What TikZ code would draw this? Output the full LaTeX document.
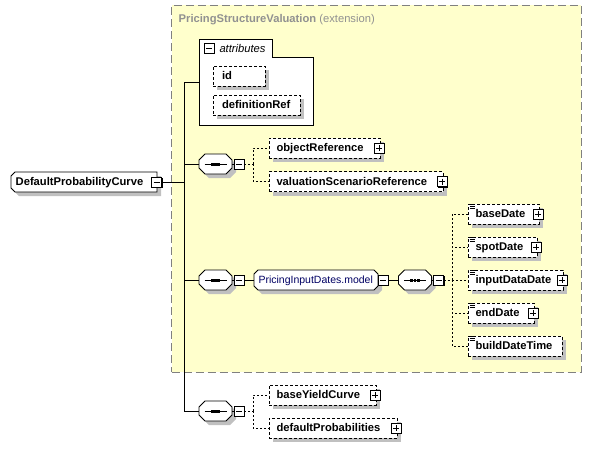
\documentclass[tikz,border=0pt]{standalone}
\usepackage{fontspec}
\setmainfont{Liberation Sans}
\usetikzlibrary{shadows}
\hyphenpenalty=10000
\exhyphenpenalty=10000
\definecolor{extfill}{RGB}{255,255,204}
\definecolor{extdraw}{RGB}{128,128,128}
\definecolor{shadowc}{RGB}{192,192,192}
\definecolor{titlec}{RGB}{145,145,145}
\definecolor{grpc}{RGB}{0,0,100}
\makeatletter
\newdimen\oc@l \newdimen\oc@r \newdimen\oc@b \newdimen\oc@t \newdimen\oc@cl \newdimen\oc@cr
\pgfkeys{/pgf/octo left/.initial=5pt, /pgf/octo right/.initial=5pt}
\pgfdeclareshape{octo}{%
  \inheritsavedanchors[from=rectangle]%
  \inheritanchorborder[from=rectangle]%
  \inheritanchor[from=rectangle]{center}%
  \inheritanchor[from=rectangle]{north}%
  \inheritanchor[from=rectangle]{south}%
  \inheritanchor[from=rectangle]{east}%
  \inheritanchor[from=rectangle]{west}%
  \inheritanchor[from=rectangle]{north east}%
  \inheritanchor[from=rectangle]{north west}%
  \inheritanchor[from=rectangle]{south east}%
  \inheritanchor[from=rectangle]{south west}%
  \inheritanchor[from=rectangle]{base}%
  \inheritanchor[from=rectangle]{mid}%
  \backgroundpath{%
    \southwest \oc@l=\pgf@x \oc@b=\pgf@y
    \northeast \oc@r=\pgf@x \oc@t=\pgf@y
    \pgfmathsetlength\oc@cl{\pgfkeysvalueof{/pgf/octo left}}%
    \pgfmathsetlength\oc@cr{\pgfkeysvalueof{/pgf/octo right}}%
    \pgfpathmoveto{\pgfqpoint{\oc@l}{\dimexpr\oc@b+\oc@cl\relax}}%
    \pgfpathlineto{\pgfqpoint{\oc@l}{\dimexpr\oc@t-\oc@cl\relax}}%
    \pgfpathlineto{\pgfqpoint{\dimexpr\oc@l+\oc@cl\relax}{\oc@t}}%
    \pgfpathlineto{\pgfqpoint{\dimexpr\oc@r-\oc@cr\relax}{\oc@t}}%
    \pgfpathlineto{\pgfqpoint{\oc@r}{\dimexpr\oc@t-\oc@cr\relax}}%
    \pgfpathlineto{\pgfqpoint{\oc@r}{\dimexpr\oc@b+\oc@cr\relax}}%
    \pgfpathlineto{\pgfqpoint{\dimexpr\oc@r-\oc@cr\relax}{\oc@b}}%
    \pgfpathlineto{\pgfqpoint{\dimexpr\oc@l+\oc@cl\relax}{\oc@b}}%
    \pgfpathclose
  }%
}
\makeatother
\tikzset{
  lblfont/.style={font=\fontsize{11.2}{13}\selectfont\bfseries},
  boxshadow/.style={drop shadow={shadow xshift=4pt,shadow yshift=-4pt,fill=shadowc,opacity=1}},
  elem/.style={rectangle, draw=black, line width=0.8pt, dash pattern=on 3pt off 2pt,
    fill=white, boxshadow, minimum height=20pt, inner xsep=7.5pt, inner ysep=0pt, outer sep=0pt,
    text height=9pt, text depth=2pt, align=left, lblfont, text width=#1},
  attrel/.style={elem=#1, inner xsep=9pt},
  simpleel/.style={elem=#1, path picture={
      \foreach \k in {0.8,2.8,4.8}
        \draw[solid,line width=0.8pt] ([xshift=1.5pt,yshift={-\k*1pt}]path picture bounding box.north west) -- ([xshift=6.5pt,yshift={-\k*1pt}]path picture bounding box.north west);}},
  pmbase/.style={rectangle, draw=black, solid, line width=0.8pt, fill=white,
    minimum size=10pt, inner sep=0pt, outer sep=0pt,
    drop shadow={shadow xshift=1pt,shadow yshift=-1pt,fill=black,opacity=1}},
  minusicon/.style={pmbase, path picture={
      \draw[line width=0.8pt] ([xshift=2pt]path picture bounding box.west) -- ([xshift=-2pt]path picture bounding box.east);}},
  plusicon/.style={pmbase, path picture={
      \draw[line width=0.8pt] ([xshift=2pt]path picture bounding box.west) -- ([xshift=-2pt]path picture bounding box.east);
      \draw[line width=0.8pt] ([yshift=-2pt]path picture bounding box.north) -- ([yshift=2pt]path picture bounding box.south);}},
  octobox/.style={octo, draw=black, solid, line width=0.8pt, fill=white, boxshadow, outer sep=0pt},
  compositor/.style={octobox, octo left=6pt, octo right=6pt,
    minimum width=33pt, minimum height=20pt, inner sep=0pt},
  conn/.style={draw=black, line width=0.8pt},
  optconn/.style={conn, dash pattern=on 2pt off 2pt},
}
\newcommand\seqglyph[1]{%
  \draw[line width=0.8pt] ([xshift=-11pt]#1.center) -- ([xshift=11pt]#1.center);
  \foreach \d in {-4.6,-1.4,1.8}
    \fill ([xshift=\d pt,yshift=1.5pt]#1.center) rectangle ++(2.8,3);}
\begin{document}
\begin{tikzpicture}[x=1pt,y=-1pt]
\useasboundingbox (0,0) rectangle (591,448);

% extension background
\node[draw=extdraw, fill=extfill, line width=1pt, dash pattern=on 8pt off 4pt,
  minimum width=409.5pt, minimum height=367pt, inner sep=0pt] (ext) at (376.25,188.5) {};
\node[anchor=base west, inner sep=0pt, text=titlec, font=\fontsize{11.2}{13}\selectfont] (title) at (178.5,22.5) {\textbf{PricingStructureValuation} (extension)};

% attributes box
\node[minimum width=113.5pt, minimum height=86pt, inner sep=0pt, outer sep=0pt] (attrs) at (256.25,82) {};
\draw[line width=0.8pt, fill=white] (attrs.north west) -- ([xshift=72.5pt]attrs.north west)
  -- ([xshift=72.5pt,yshift=-18pt]attrs.north west) -- ([yshift=-18pt]attrs.north east)
  -- (attrs.south east) -- (attrs.south west) -- cycle;
\node[minusicon] (attrm) at (209,48.3) {};
\node[anchor=base west, inner sep=0pt, font=\fontsize{11.2}{13}\selectfont\itshape] (attrt) at (219.3,52) {attributes};
\node[attrel=34pt] (id) at (239,76) {id};
\node[attrel=69pt] (defref) at (256.5,105) {definitionRef};

% root element
\node[octobox, octo left=4pt, octo right=0pt,
  minimum width=146pt, minimum height=20pt, inner xsep=4.7pt, inner ysep=0pt,
  text width=136.6pt, text height=9pt, text depth=2pt, align=left, lblfont] (dpc) at (84,182) {DefaultProbabilityCurve};
\node[minusicon] (dpcm) at ([xshift=-0.5pt]dpc.east) {};

% compositor 1
\node[compositor] (c1) at (215.5,164) {};
\seqglyph{c1}
\node[minusicon, anchor=west] (m1) at ([xshift=2pt]c1.east) {};
\node[elem=96pt] (objref) at (324.5,148) {objectReference};
\node[plusicon] (objrefp) at ([xshift=-1pt]objref.east) {};
\node[elem=159pt] (vsr) at (356,181.5) {valuationScenarioReference};
\node[plusicon] (vsrp) at ([xshift=-1pt]vsr.east) {};

% compositor 2 + group
\node[compositor] (c2) at (215.5,280) {};
\seqglyph{c2}
\node[minusicon, anchor=west] (m2) at ([xshift=2pt]c2.east) {};
\node[octobox, octo left=4pt, octo right=4pt,
  minimum width=124pt, minimum height=20pt, inner xsep=4.5pt, inner ysep=0pt,
  text width=115pt, text height=9pt, text depth=2pt, align=left,
  font=\fontsize{10.5}{12}\selectfont, text=grpc] (pid) at (316,280) {PricingInputDates.model};
\node[minusicon, anchor=west] (pidm) at (pid.east) {};
\node[compositor] (c3) at (415,280) {};
\seqglyph{c3}
\node[minusicon, anchor=west] (m3) at ([xshift=2pt]c3.east) {};
\node[simpleel=56pt] (based) at (503.5,214) {baseDate};
\node[plusicon] (basedp) at ([xshift=-1pt]based.east) {};
\node[simpleel=54pt] (spotd) at (502.5,247) {spotDate};
\node[plusicon] (spotdp) at ([xshift=-1pt]spotd.east) {};
\node[simpleel=80pt] (inputd) at (515.5,280) {inputDataDate};
\node[plusicon] (inputdp) at ([xshift=-1pt]inputd.east) {};
\node[simpleel=51pt] (endd) at (501,313) {endDate};
\node[plusicon] (enddp) at ([xshift=-1pt]endd.east) {};
\node[simpleel=79pt] (buildd) at (515,346) {buildDateTime};

% compositor 4
\node[compositor] (c4) at (215.5,411) {};
\seqglyph{c4}
\node[minusicon, anchor=west] (m4) at ([xshift=2pt]c4.east) {};
\node[elem=92pt] (byc) at (322.5,395) {baseYieldCurve};
\node[plusicon] (bycp) at ([xshift=-1pt]byc.east) {};
\node[elem=113pt] (dprob) at (333,428) {defaultProbabilities};
\node[plusicon] (dprobp) at ([xshift=-1pt]dprob.east) {};

% connectors
\coordinate (jt) at (184,182);
\draw[conn] (dpcm.east) -- (jt);
\draw[conn] (jt) |- (attrs.west);
\draw[conn] (jt) |- (c1.west);
\draw[conn] (jt) |- (c2.west);
\draw[conn] (jt) |- (c4.west);

\draw[conn] (c1.east) -- (m1.west);
\coordinate (j1) at (253,164);
\draw[optconn] (m1.east) -- (j1);
\draw[optconn] (j1) |- (objref.west);
\draw[optconn] (j1) |- (vsr.west);

\draw[conn] (c2.east) -- (m2.west);
\draw[conn] (m2.east) -- (pid.west);
\draw[conn] (pidm.east) -- (c3.west);
\draw[conn] (c3.east) -- (m3.west);
\coordinate (j3) at (452,280);
\draw[optconn] (m3.east) -- (j3);
\draw[optconn] (j3) |- (based.west);
\draw[optconn] (j3) |- (spotd.west);
\draw[optconn] (j3) |- (inputd.west);
\draw[optconn] (j3) |- (endd.west);
\draw[optconn] (j3) |- (buildd.west);

\draw[conn] (c4.east) -- (m4.west);
\coordinate (j4) at (253,411);
\draw[optconn] (m4.east) -- (j4);
\draw[optconn] (j4) |- (byc.west);
\draw[optconn] (j4) |- (dprob.west);
\end{tikzpicture}
\end{document}
